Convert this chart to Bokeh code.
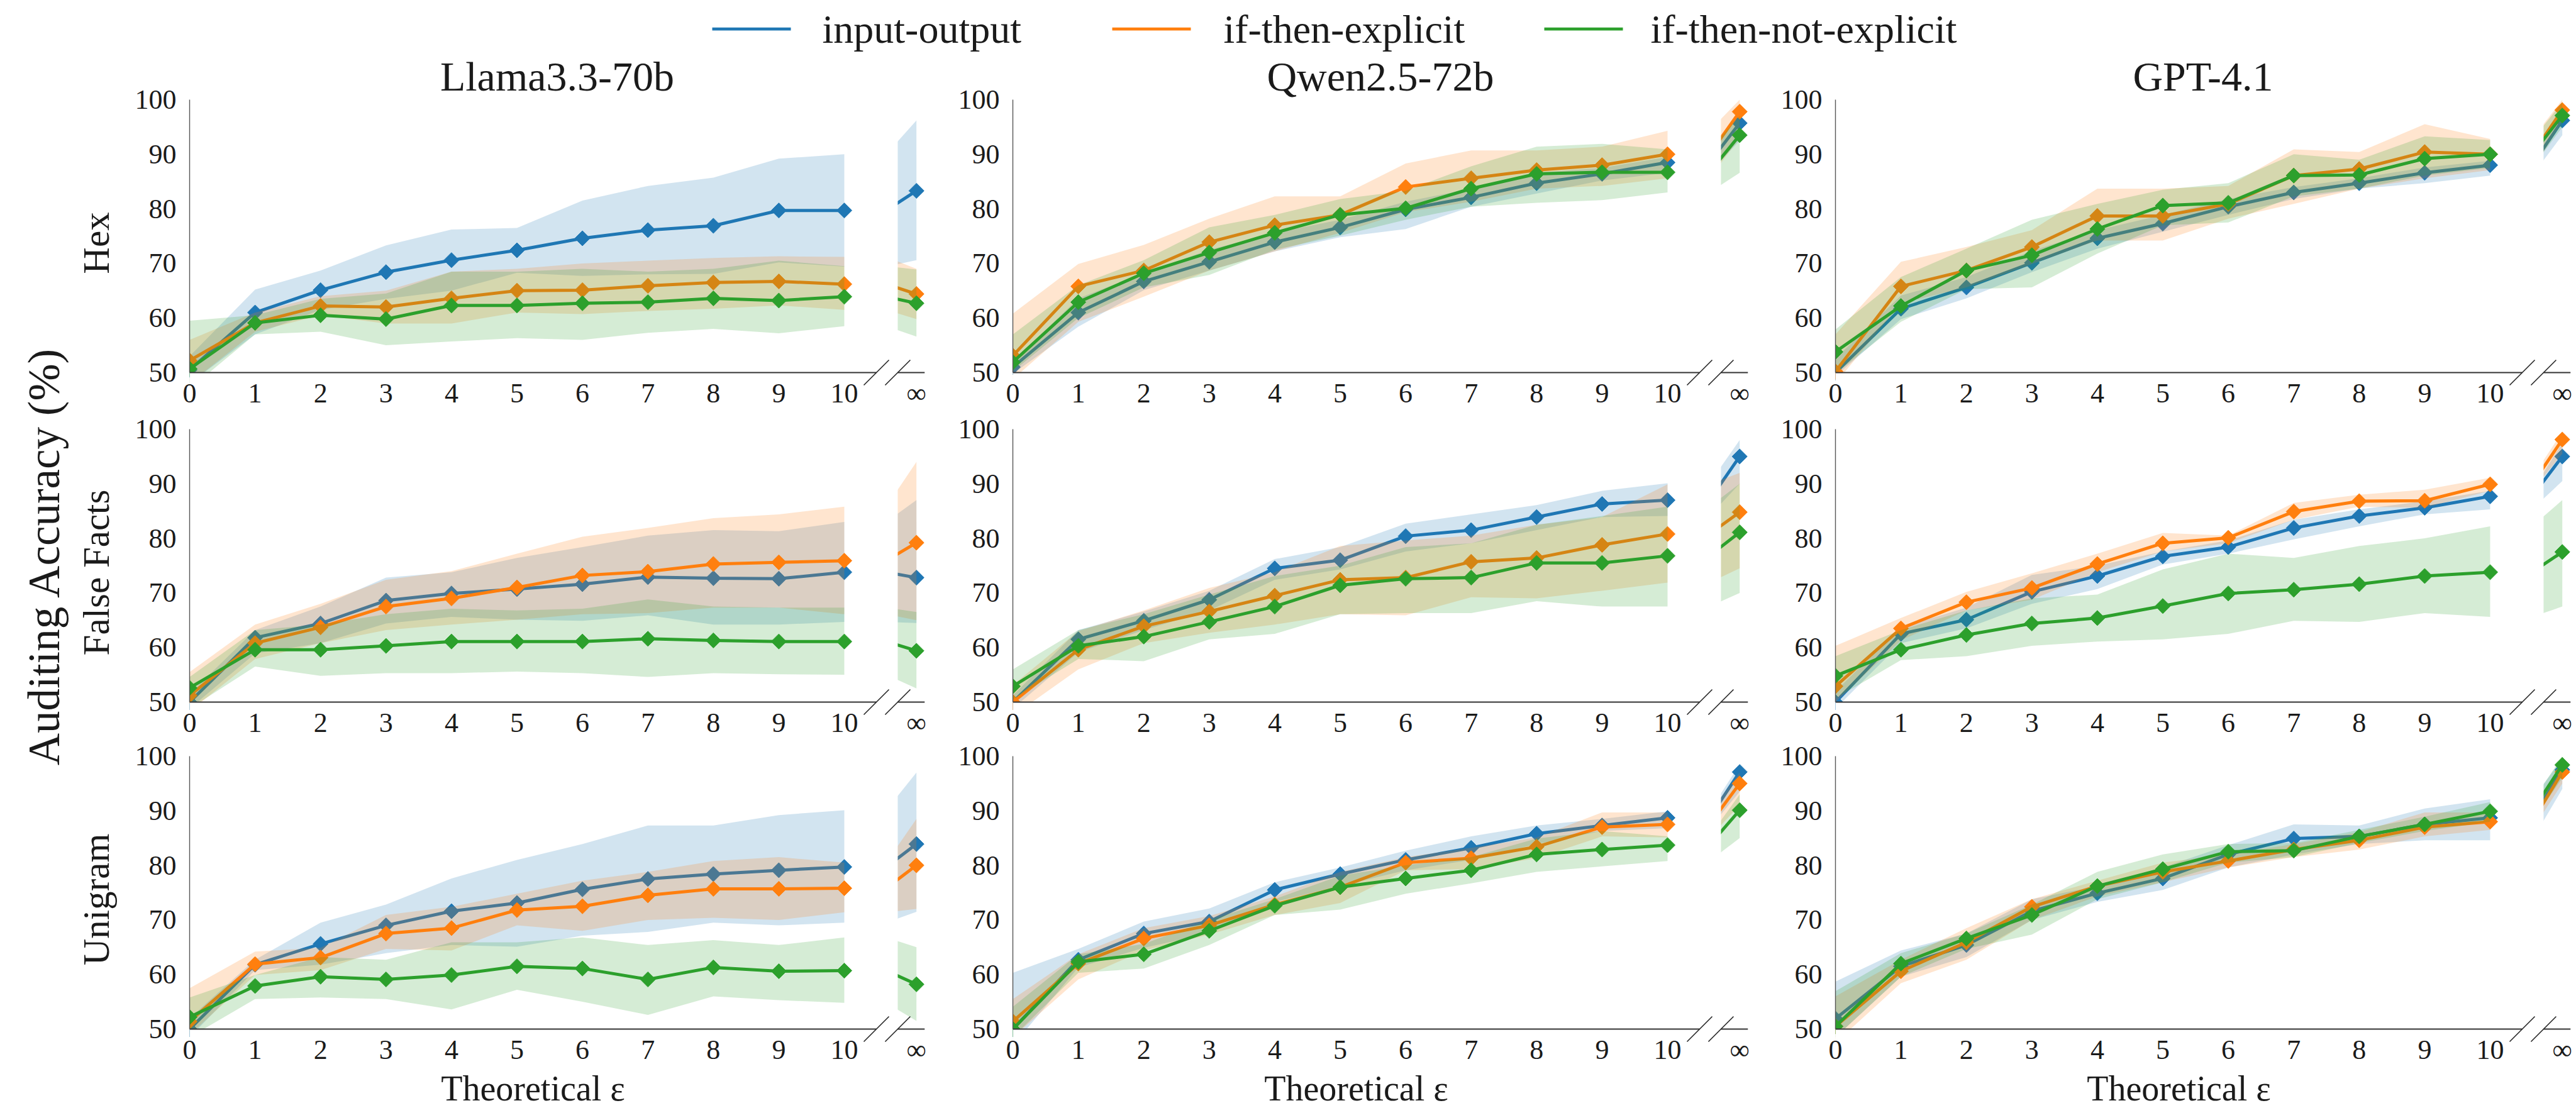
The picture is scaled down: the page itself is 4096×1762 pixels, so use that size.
import numpy as np
from bokeh.plotting import figure
from bokeh.models import Range1d, FixedTicker, CustomJSTickFormatter, LinearAxis
from bokeh.layouts import column, row
from bokeh.embed import file_html
from bokeh.resources import INLINE
from bokeh.core.properties import value

FONT = "Liberation Serif"
TXT = "#1a1a1a"

# ---------------- data ----------------
EPS = [0, 1, 2, 3, 4, 5, 6, 7, 8, 9, 10]   # theoretical epsilon; 12th value of each series is eps = inf
X_INF = 11                                   # data position used for the infinity column
Y_TICKS = [50, 60, 70, 80, 90, 100]
SERIES = ["input-output", "if-then-explicit", "if-then-not-explicit"]
COLORS = ["#1f77b4", "#ff7f0e", "#2ca02c"]
MODELS = ["Llama3.3-70b", "Qwen2.5-72b", "GPT-4.1"]
TASKS = ["Hex", "False Facts", "Unigram"]

# --- Hex ---
LLAMA_HEX_IO = [50.5, 61.0, 65.1, 68.4, 70.6, 72.4, 74.6, 76.1, 76.9, 79.7, 79.7, 83.3]
LLAMA_HEX_IO_LO = [48.0, 57.0, 61.5, 63.5, 65.0, 68.3, 67.7, 68.0, 68.1, 70.2, 69.4, 70.6]
LLAMA_HEX_IO_HI = [53.0, 65.2, 68.7, 73.3, 76.2, 76.5, 81.5, 84.2, 85.7, 89.2, 90.0, 96.2]
LLAMA_HEX_IE = [52.2, 59.1, 62.2, 62.0, 63.6, 65.0, 65.1, 65.9, 66.5, 66.7, 66.2, 64.4]
LLAMA_HEX_IE_LO = [48.0, 57.5, 60.5, 59.0, 59.0, 61.0, 60.7, 61.3, 61.7, 62.3, 61.5, 59.8]
LLAMA_HEX_IE_HI = [56.0, 61.0, 64.0, 65.0, 68.5, 69.0, 70.0, 70.5, 71.0, 71.3, 71.2, 69.0]
LLAMA_HEX_INE = [50.7, 59.1, 60.5, 59.8, 62.3, 62.3, 62.7, 62.9, 63.6, 63.2, 63.9, 62.7]
LLAMA_HEX_INE_LO = [47.0, 57.0, 57.5, 55.0, 55.7, 56.3, 56.0, 57.3, 58.0, 57.2, 58.5, 56.6]
LLAMA_HEX_INE_HI = [59.5, 60.5, 63.5, 64.5, 68.5, 68.5, 69.0, 68.5, 69.0, 70.5, 69.5, 68.9]

QWEN_HEX_IO = [51.0, 61.0, 66.7, 70.3, 73.9, 76.6, 79.9, 82.1, 84.7, 86.4, 88.5, 95.7]
QWEN_HEX_IO_LO = [49.8, 58.4, 65.1, 68.7, 72.2, 74.8, 76.3, 80.4, 82.8, 85.2, 86.6, 92.5]
QWEN_HEX_IO_HI = [52.0, 63.6, 68.2, 72.5, 75.6, 78.0, 81.3, 83.7, 86.6, 87.5, 89.5, 97.5]
QWEN_HEX_IE = [53.1, 65.8, 68.7, 73.9, 77.0, 78.9, 84.0, 85.6, 87.1, 88.0, 90.0, 97.8]
QWEN_HEX_IE_LO = [48.8, 59.3, 63.9, 68.7, 72.2, 75.6, 79.4, 81.3, 83.7, 84.2, 85.6, 93.0]
QWEN_HEX_IE_HI = [60.8, 69.9, 73.4, 78.2, 82.3, 82.3, 88.3, 90.7, 90.7, 91.4, 94.3, 100.0]
QWEN_HEX_INE = [51.9, 62.9, 68.2, 72.0, 75.6, 78.9, 80.1, 83.7, 86.4, 86.7, 86.7, 93.5]
QWEN_HEX_INE_LO = [50.2, 60.0, 65.6, 67.9, 72.5, 75.1, 78.0, 80.4, 81.1, 81.6, 83.0, 86.6]
QWEN_HEX_INE_HI = [57.0, 66.0, 70.6, 76.6, 78.9, 81.8, 83.3, 87.8, 91.4, 91.9, 90.9, 97.0]

GPT_HEX_IO = [50.0, 61.7, 65.6, 70.1, 74.6, 77.3, 80.4, 83.0, 84.7, 86.6, 88.0, 96.2]
GPT_HEX_IO_LO = [49.3, 59.8, 63.6, 68.4, 72.7, 75.8, 78.9, 81.8, 83.7, 84.7, 86.1, 93.5]
GPT_HEX_IO_HI = [52.6, 64.1, 67.5, 72.3, 76.1, 78.9, 81.8, 84.0, 85.6, 87.6, 88.8, 98.0]
GPT_HEX_IE = [50.2, 65.8, 68.7, 73.0, 78.7, 78.7, 80.9, 86.1, 87.3, 90.4, 90.0, 98.1]
GPT_HEX_IE_LO = [48.0, 62.7, 65.6, 69.9, 74.2, 74.2, 78.2, 80.9, 83.7, 85.6, 87.1, 96.0]
GPT_HEX_IE_HI = [57.0, 70.3, 73.0, 76.1, 83.7, 83.7, 84.2, 90.9, 90.4, 95.5, 92.8, 100.0]
GPT_HEX_INE = [53.8, 62.2, 68.7, 71.5, 76.3, 80.6, 81.1, 86.1, 86.2, 89.2, 90.0, 97.1]
GPT_HEX_INE_LO = [49.8, 59.3, 65.3, 65.6, 71.8, 77.0, 77.5, 82.3, 83.7, 86.1, 87.5, 95.0]
GPT_HEX_INE_HI = [57.9, 67.5, 72.7, 78.0, 80.9, 83.5, 84.7, 90.0, 89.0, 93.3, 92.6, 99.5]

# --- False Facts ---
LLAMA_FF_IO = [50.0, 61.8, 64.4, 68.6, 69.9, 70.7, 71.6, 72.9, 72.7, 72.6, 73.8, 72.8]
LLAMA_FF_IO_LO = [48.8, 58.9, 60.8, 64.4, 65.6, 65.1, 64.9, 65.9, 64.2, 64.2, 64.7, 64.5]
LLAMA_FF_IO_HI = [51.5, 63.2, 67.5, 72.8, 73.8, 76.4, 78.4, 80.5, 81.5, 81.3, 83.0, 87.0]
LLAMA_FF_IE = [51.2, 60.8, 63.7, 67.5, 69.0, 71.0, 73.2, 73.9, 75.3, 75.6, 75.9, 79.2]
LLAMA_FF_IE_LO = [48.3, 57.9, 60.8, 63.2, 64.2, 65.1, 66.1, 66.3, 67.3, 67.3, 66.1, 65.0]
LLAMA_FF_IE_HI = [55.5, 64.2, 68.0, 72.4, 74.0, 77.2, 80.3, 81.9, 83.7, 84.4, 85.8, 94.0]
LLAMA_FF_INE = [52.6, 59.6, 59.6, 60.3, 61.1, 61.1, 61.1, 61.6, 61.3, 61.1, 61.1, 59.4]
LLAMA_FF_INE_LO = [48.8, 56.5, 54.8, 55.3, 55.3, 55.6, 55.3, 54.6, 55.3, 55.1, 55.0, 52.5]
LLAMA_FF_INE_HI = [54.6, 63.2, 64.2, 66.1, 67.1, 66.8, 67.1, 68.8, 67.5, 67.3, 67.3, 66.5]

QWEN_FF_IO = [50.0, 61.5, 64.9, 68.75, 74.5, 76.0, 80.4, 81.5, 83.9, 86.3, 87.0, 95.0]
QWEN_FF_IO_LO = [48.8, 59.1, 63.2, 66.8, 72.4, 74.3, 77.6, 79.1, 81.5, 83.9, 84.1, 90.0]
QWEN_FF_IO_HI = [51.2, 63.2, 66.6, 70.4, 76.2, 78.4, 82.7, 84.4, 86.1, 88.7, 90.1, 98.0]
QWEN_FF_IE = [50.0, 59.6, 63.9, 66.6, 69.5, 72.4, 72.8, 75.7, 76.4, 78.8, 80.8, 84.8]
QWEN_FF_IE_LO = [47.5, 56.0, 60.8, 62.7, 64.2, 66.1, 65.9, 69.2, 69.0, 70.4, 71.9, 74.5]
QWEN_FF_IE_HI = [53.1, 63.0, 66.8, 70.9, 73.8, 78.6, 79.6, 80.5, 82.5, 83.9, 89.9, 92.0]
QWEN_FF_INE = [52.9, 60.3, 62.0, 64.7, 67.5, 71.4, 72.6, 72.8, 75.5, 75.5, 76.8, 81.1]
QWEN_FF_INE_LO = [50.5, 57.9, 57.5, 61.5, 62.5, 66.1, 66.3, 66.3, 68.5, 67.5, 67.5, 70.0]
QWEN_FF_INE_HI = [56.0, 63.2, 66.1, 69.7, 73.1, 75.0, 78.4, 79.1, 82.5, 84.1, 85.8, 90.0]

GPT_FF_IO = [50.0, 62.5, 65.1, 70.2, 73.1, 76.7, 78.4, 81.9, 84.1, 85.6, 87.7, 95.0]
GPT_FF_IO_LO = [48.8, 60.8, 63.5, 68.0, 70.7, 75.2, 77.2, 79.8, 82.2, 84.4, 85.3, 90.5]
GPT_FF_IO_HI = [52.0, 63.7, 67.3, 73.3, 75.0, 77.6, 79.6, 83.4, 85.3, 86.8, 88.7, 97.5]
GPT_FF_IE = [52.9, 63.5, 68.3, 70.9, 75.3, 79.1, 80.1, 84.9, 86.8, 86.9, 89.9, 98.1]
GPT_FF_IE_LO = [50.0, 61.3, 66.8, 68.75, 73.8, 77.6, 79.1, 83.4, 85.8, 85.6, 88.7, 95.5]
GPT_FF_IE_HI = [60.3, 65.4, 70.2, 73.6, 77.2, 81.0, 80.5, 86.5, 88.0, 88.9, 91.1, 99.5]
GPT_FF_INE = [54.8, 59.6, 62.3, 64.4, 65.4, 67.6, 69.9, 70.6, 71.6, 73.1, 73.8, 77.5]
GPT_FF_INE_LO = [50.7, 57.7, 58.4, 60.3, 61.1, 61.5, 62.5, 64.9, 64.7, 66.3, 65.6, 67.5]
GPT_FF_INE_HI = [58.4, 63.2, 66.8, 69.0, 69.7, 74.3, 77.2, 76.4, 78.6, 80.0, 82.2, 87.0]

# --- Unigram ---
LLAMA_UNI_IO = [50.0, 61.8, 65.6, 69.0, 71.6, 73.1, 75.6, 77.5, 78.4, 79.1, 79.7, 83.9]
LLAMA_UNI_IO_LO = [48.5, 60.8, 61.8, 63.9, 65.4, 65.1, 67.1, 67.8, 69.5, 69.0, 69.5, 71.5]
LLAMA_UNI_IO_HI = [52.0, 62.7, 69.5, 72.8, 77.6, 81.0, 83.9, 87.3, 87.3, 89.2, 90.1, 97.0]
LLAMA_UNI_IE = [51.4, 61.9, 63.1, 67.5, 68.5, 71.8, 72.5, 74.5, 75.7, 75.7, 75.8, 80.0]
LLAMA_UNI_IE_LO = [49.0, 59.9, 60.8, 64.7, 64.4, 69.0, 68.0, 70.0, 70.4, 70.0, 71.4, 72.0]
LLAMA_UNI_IE_HI = [57.5, 64.2, 64.9, 70.9, 72.4, 74.8, 77.2, 78.8, 80.8, 81.5, 80.5, 88.5]
LLAMA_UNI_INE = [52.2, 57.9, 59.6, 59.1, 59.9, 61.5, 61.1, 59.1, 61.3, 60.6, 60.7, 58.2]
LLAMA_UNI_INE_LO = [48.5, 55.5, 55.8, 55.5, 53.6, 57.2, 55.0, 52.6, 56.0, 55.3, 54.8, 51.5]
LLAMA_UNI_INE_HI = [55.8, 59.9, 63.2, 62.7, 65.9, 65.9, 66.8, 65.4, 66.3, 65.4, 66.8, 65.0]

QWEN_UNI_IO = [50.0, 62.7, 67.5, 69.7, 75.5, 78.4, 81.0, 83.2, 85.8, 87.3, 88.7, 97.1]
QWEN_UNI_IO_LO = [47.0, 61.3, 64.9, 67.5, 73.3, 76.2, 79.1, 81.0, 83.9, 86.3, 86.8, 93.5]
QWEN_UNI_IO_HI = [60.3, 64.7, 69.7, 72.1, 76.9, 79.6, 82.7, 85.3, 87.3, 88.5, 89.9, 98.5]
QWEN_UNI_IE = [51.4, 62.0, 66.6, 69.0, 72.8, 76.0, 80.5, 81.3, 83.4, 87.0, 87.5, 95.0]
QWEN_UNI_IE_LO = [48.5, 59.1, 64.4, 67.3, 70.9, 73.1, 79.1, 79.3, 81.3, 85.3, 85.1, 91.0]
QWEN_UNI_IE_HI = [55.5, 63.7, 68.5, 70.7, 74.3, 78.8, 81.5, 83.2, 85.1, 89.7, 89.7, 97.0]
QWEN_UNI_INE = [50.0, 62.3, 63.7, 68.0, 72.6, 76.0, 77.6, 79.1, 82.0, 82.9, 83.7, 90.1]
QWEN_UNI_INE_LO = [48.5, 60.3, 61.1, 65.4, 70.9, 71.9, 74.8, 76.7, 78.8, 79.8, 80.8, 85.0]
QWEN_UNI_INE_HI = [54.1, 63.7, 65.6, 70.0, 73.8, 78.1, 80.0, 81.5, 84.9, 86.3, 85.3, 93.0]

GPT_UNI_IO = [51.9, 61.5, 65.4, 71.6, 74.9, 77.6, 82.0, 84.9, 85.3, 87.5, 88.7, 97.5]
GPT_UNI_IO_LO = [48.5, 59.6, 63.2, 70.0, 73.3, 75.5, 79.6, 82.0, 83.9, 84.6, 84.6, 94.0]
GPT_UNI_IO_HI = [58.7, 64.4, 67.5, 73.8, 76.2, 79.6, 83.7, 87.5, 87.3, 90.4, 92.1, 99.5]
GPT_UNI_IE = [50.5, 60.6, 65.9, 72.4, 76.2, 78.8, 80.8, 82.9, 84.6, 87.0, 88.0, 97.1]
GPT_UNI_IE_LO = [47.5, 58.4, 62.7, 70.0, 74.3, 76.9, 79.6, 81.5, 82.9, 85.3, 86.5, 95.0]
GPT_UNI_IE_HI = [56.0, 62.7, 68.5, 73.8, 77.2, 80.5, 82.0, 83.9, 86.1, 89.7, 89.7, 99.0]
GPT_UNI_INE = [50.5, 62.0, 66.6, 70.9, 76.2, 79.3, 82.5, 82.7, 85.3, 87.5, 89.9, 98.4]
GPT_UNI_INE_LO = [48.5, 59.6, 64.7, 67.3, 73.8, 76.9, 80.5, 81.5, 84.1, 86.3, 88.0, 96.0]
GPT_UNI_INE_HI = [56.95, 63.9, 67.5, 72.8, 78.8, 82.0, 83.9, 84.1, 86.5, 88.9, 91.6, 100.0]

PANELS = [
    [  # Hex
        [(LLAMA_HEX_IO, LLAMA_HEX_IO_LO, LLAMA_HEX_IO_HI), (LLAMA_HEX_IE, LLAMA_HEX_IE_LO, LLAMA_HEX_IE_HI), (LLAMA_HEX_INE, LLAMA_HEX_INE_LO, LLAMA_HEX_INE_HI)],
        [(QWEN_HEX_IO, QWEN_HEX_IO_LO, QWEN_HEX_IO_HI), (QWEN_HEX_IE, QWEN_HEX_IE_LO, QWEN_HEX_IE_HI), (QWEN_HEX_INE, QWEN_HEX_INE_LO, QWEN_HEX_INE_HI)],
        [(GPT_HEX_IO, GPT_HEX_IO_LO, GPT_HEX_IO_HI), (GPT_HEX_IE, GPT_HEX_IE_LO, GPT_HEX_IE_HI), (GPT_HEX_INE, GPT_HEX_INE_LO, GPT_HEX_INE_HI)],
    ],
    [  # False Facts
        [(LLAMA_FF_IO, LLAMA_FF_IO_LO, LLAMA_FF_IO_HI), (LLAMA_FF_IE, LLAMA_FF_IE_LO, LLAMA_FF_IE_HI), (LLAMA_FF_INE, LLAMA_FF_INE_LO, LLAMA_FF_INE_HI)],
        [(QWEN_FF_IO, QWEN_FF_IO_LO, QWEN_FF_IO_HI), (QWEN_FF_IE, QWEN_FF_IE_LO, QWEN_FF_IE_HI), (QWEN_FF_INE, QWEN_FF_INE_LO, QWEN_FF_INE_HI)],
        [(GPT_FF_IO, GPT_FF_IO_LO, GPT_FF_IO_HI), (GPT_FF_IE, GPT_FF_IE_LO, GPT_FF_IE_HI), (GPT_FF_INE, GPT_FF_INE_LO, GPT_FF_INE_HI)],
    ],
    [  # Unigram
        [(LLAMA_UNI_IO, LLAMA_UNI_IO_LO, LLAMA_UNI_IO_HI), (LLAMA_UNI_IE, LLAMA_UNI_IE_LO, LLAMA_UNI_IE_HI), (LLAMA_UNI_INE, LLAMA_UNI_INE_LO, LLAMA_UNI_INE_HI)],
        [(QWEN_UNI_IO, QWEN_UNI_IO_LO, QWEN_UNI_IO_HI), (QWEN_UNI_IE, QWEN_UNI_IE_LO, QWEN_UNI_IE_HI), (QWEN_UNI_INE, QWEN_UNI_INE_LO, QWEN_UNI_INE_HI)],
        [(GPT_UNI_IO, GPT_UNI_IO_LO, GPT_UNI_IO_HI), (GPT_UNI_IE, GPT_UNI_IE_LO, GPT_UNI_IE_HI), (GPT_UNI_INE, GPT_UNI_INE_LO, GPT_UNI_INE_HI)],
    ],
]

# ---------------- layout constants (output pixels) ----------------
FRAME_W = 1169
DATA_H = 434          # pixels spanned by 50..100
PAD_PX = 22           # frame extends this far below y=50 (room for the break marks)
FRAME_H = DATA_H + PAD_PX
PX_PER_Y = DATA_H / 50.0
Y_START = 50 - PAD_PX / PX_PER_Y
PX_PER_UNIT = 104.1
MAIN_END = 10.49      # end of the main x segment
INF_LEFT = 10.816     # start of the infinity segment (primary units)
INF_POS = 11.102      # position of the infinity column (primary units)
INF_FRAC = 0.38       # where the inf-segment's left edge falls between eps=10 and eps=inf
X_RIGHT = FRAME_W / PX_PER_UNIT
K_INF = (1 - INF_FRAC) / (INF_POS - INF_LEFT)
E_START = X_INF - INF_POS * K_INF
E_END = X_INF + (X_RIGHT - INF_POS) * K_INF
BREAK_PX = 20

LEFT_FIG_W = 110
LEFT_B = [191, 134, 133]
RIGHT_B = [6, 6, 9]
TOP_B = [76, 25, 24]
BOTTOM_B = [43, 40, 42]
HEADER_H = 82
FOOTER_H = 62
TOTAL_W = 4096

TICK_PX = "44px"
LINE_W = 5
MARK_SIZE = 17


def make_panel(ti, mi):
    lb, rb, tb, bb = LEFT_B[mi], RIGHT_B[mi], TOP_B[ti], BOTTOM_B[ti]
    p = figure(width=lb + FRAME_W + rb, height=tb + FRAME_H + bb,
               x_range=Range1d(0, X_RIGHT), y_range=Range1d(Y_START, 100),
               x_axis_type=None, y_axis_type=None,
               output_backend="svg", toolbar_location=None,
               min_border_left=lb, min_border_right=rb,
               min_border_top=tb, min_border_bottom=bb)
    p.extra_x_ranges = {"inf": Range1d(E_START, E_END)}
    p.outline_line_color = None
    p.background_fill_color = "white"
    p.border_fill_color = "white"

    if ti == 0:
        p.title.text = MODELS[mi]
        p.title.align = "center"
        p.title.offset = -(FRAME_W / 2 - MAIN_END * PX_PER_UNIT / 2)
        p.title.text_font = FONT
        p.title.text_font_size = "66px"
        p.title.text_font_style = "normal"
        p.title.text_color = TXT
        p.title.standoff = 0
        p.title.vertical_align = "middle"

    xa = LinearAxis(ticker=FixedTicker(ticks=EPS + [INF_POS], minor_ticks=[]),
                    formatter=CustomJSTickFormatter(code="return tick > 10.5 ? '\u221e' : tick.toFixed(0);"))
    xa.axis_line_color = None
    xa.major_tick_line_color = None
    xa.minor_tick_line_color = None
    xa.major_tick_out = 0
    xa.major_tick_in = 0
    xa.major_label_standoff = -14
    xa.major_label_text_font = FONT
    xa.major_label_text_font_size = TICK_PX
    xa.major_label_text_color = TXT
    p.add_layout(xa, "below")

    ya = LinearAxis(ticker=FixedTicker(ticks=Y_TICKS, minor_ticks=[]), bounds=(50, 100))
    ya.axis_line_color = "#555555"
    ya.axis_line_width = 1.4
    ya.major_tick_line_color = None
    ya.minor_tick_line_color = None
    ya.major_tick_out = 0
    ya.major_tick_in = 0
    ya.major_label_standoff = 21
    ya.major_label_text_font = FONT
    ya.major_label_text_font_size = TICK_PX
    ya.major_label_text_color = TXT
    if mi == 0:
        ya.axis_label = TASKS[ti]
        ya.axis_label_text_font = FONT
        ya.axis_label_text_font_size = "59px"
        ya.axis_label_text_font_style = "normal"
        ya.axis_label_text_color = TXT
        ya.axis_label_standoff = 26
    p.add_layout(ya, "left")

    last = EPS[-1]
    n = len(EPS)
    for (mean, lo, hi), color in zip(PANELS[ti][mi], COLORS):
        p.varea(x=EPS, y1=lo[:n], y2=hi[:n], fill_color=color, fill_alpha=0.2)
        p.varea(x=[last, X_INF], y1=[lo[n - 1], lo[-1]], y2=[hi[n - 1], hi[-1]],
                fill_color=color, fill_alpha=0.2, x_range_name="inf")
        p.line(EPS, mean[:n], line_color=color, line_width=LINE_W)
        p.line([last, X_INF], [mean[n - 1], mean[-1]], line_color=color, line_width=LINE_W,
               x_range_name="inf")
        p.scatter(EPS, mean[:n], marker="square", angle=np.pi / 4, size=MARK_SIZE,
                  fill_color=color, line_color=color, line_width=1)
        p.scatter([X_INF], [mean[-1]], marker="square", angle=np.pi / 4, size=MARK_SIZE,
                  fill_color=color, line_color=color, line_width=1, x_range_name="inf")

    # blank the gap between the two x segments and the strip under y=50
    p.quad(left=[MAIN_END, 0], right=[INF_LEFT, X_RIGHT], bottom=[Y_START, Y_START], top=[100, 50],
           fill_color="white", line_color=None)

    # broken x axis: two axis segments and the diagonal break marks
    dx = BREAK_PX / PX_PER_UNIT
    dy = BREAK_PX / PX_PER_Y
    p.segment(x0=[0, INF_LEFT], x1=[MAIN_END, X_RIGHT], y0=[50, 50], y1=[50, 50],
              line_color="#333333", line_width=2.2)
    p.segment(x0=[MAIN_END - dx, INF_LEFT - dx], x1=[MAIN_END + dx, INF_LEFT + dx],
              y0=[50 - dy, 50 - dy], y1=[50 + dy, 50 + dy], line_color="#222222", line_width=1.6)
    return p


def blank_fig(w, h):
    f = figure(width=w, height=h, x_range=Range1d(0, w), y_range=Range1d(0, h),
               x_axis_type=None, y_axis_type=None, min_border=0,
               output_backend="svg", toolbar_location=None)
    f.outline_line_color = None
    f.background_fill_color = "white"
    f.border_fill_color = "white"
    return f


# header with legend
LEG_X0 = [1132, 1768, 2455]
LEG_LEN = 125
LEG_TX = [1307, 1945, 2624]
LEG_Y = HEADER_H - 45.7
header = blank_fig(TOTAL_W, HEADER_H)
header.segment(x0=LEG_X0, x1=[x + LEG_LEN for x in LEG_X0], y0=[LEG_Y] * 3, y1=[LEG_Y] * 3,
               line_color=COLORS, line_width=4.8)
header.text(x=LEG_TX, y=[LEG_Y] * 3, text=SERIES, text_font=value(FONT), text_font_size="64px",
            text_align="left", text_baseline="middle", text_color=TXT)

rows = [row(*[make_panel(ti, mi) for mi in range(3)]) for ti in range(3)]
grid_h = sum(TOP_B[i] + FRAME_H + BOTTOM_B[i] for i in range(3))

left = blank_fig(LEFT_FIG_W, grid_h)
left.text(x=[69], y=[grid_h - (883.5 - HEADER_H)], text=["Auditing Accuracy (%)"], angle=np.pi / 2,
          text_font=value(FONT), text_font_size="71px", text_align="center",
          text_baseline="middle", text_color=TXT)

# footer with x-axis titles centred under each main segment
frame_lefts = []
acc = LEFT_FIG_W
for mi in range(3):
    frame_lefts.append(acc + LEFT_B[mi])
    acc += LEFT_B[mi] + FRAME_W + RIGHT_B[mi]
footer = blank_fig(TOTAL_W, FOOTER_H)
footer.text(x=[fl + MAIN_END * PX_PER_UNIT / 2 for fl in frame_lefts], y=[FOOTER_H - 30] * 3,
            text=["Theoretical \u03b5"] * 3, text_font=value(FONT), text_font_size="56px",
            text_align="center", text_baseline="middle", text_color=TXT)

layout = column(header, row(left, column(*rows)), footer)
open("out.html", "w").write(file_html(layout, INLINE))
